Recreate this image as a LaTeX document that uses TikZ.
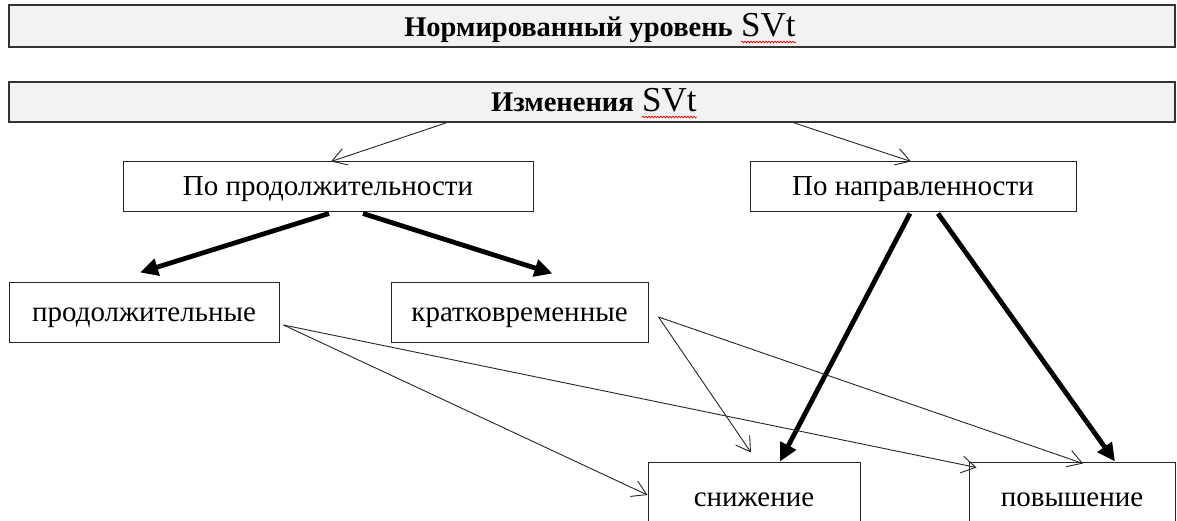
\documentclass[tikz,border=0pt]{standalone}
\usepackage{fontspec}
\setmainfont{Liberation Serif}
\usetikzlibrary{arrows.meta,calc,decorations.pathmorphing}
\begin{document}
\begin{tikzpicture}[x=1pt,y=-1pt,
  bar/.style={draw=black!80, line width=1.8pt, fill=black!5, inner sep=0pt, minimum width=1166pt},
  box/.style={draw=black!85, line width=1pt, fill=white, inner sep=0pt,
    font=\fontsize{29}{34}\selectfont, text height=24pt, text depth=6pt},
  bartext/.style={inner sep=0pt, font=\fontsize{28.5}{34}\selectfont\bfseries},
  svt/.style={inner sep=0pt, font=\fontsize{35}{40}\selectfont},
  squiggle/.style={draw=red, line width=0.7pt, decorate, decoration={snake, amplitude=0.9pt, segment length=3pt}},
  thinarrow/.style={draw=black!85, line width=0.9pt, -{Straight Barb[length=14pt,width=17pt]}},
  thickarrow/.style={draw=black, line width=4.8pt, -{Triangle[length=18pt,width=17pt]}}
]
\clip (0,0) rectangle (1177,521);
\fill[white] (0,0) rectangle (1177,521);

\node[bar, minimum height=42pt] (bar1) at (592,26) {};
\node[bar, minimum height=40pt] (bar2) at (592,102) {};

\node[bartext, anchor=base east] (t1a) at (733,37) {Нормированный уровень};
\node[svt, anchor=base west] (t1b) at ($(t1a.base east)+(8,0)$) {SVt};
\draw[squiggle] ($(t1b.base west)+(0,5)$) -- ($(t1b.base east)+(0,5)$);

\node[bartext, anchor=base east] (t2a) at (634,112) {Изменения};
\node[svt, anchor=base west] (t2b) at ($(t2a.base east)+(8,0)$) {SVt};
\draw[squiggle] ($(t2b.base west)+(0,5)$) -- ($(t2b.base east)+(0,5)$);

\node[box, minimum width=410pt, minimum height=50pt] (pdur) at (328,187) {По продолжительности};
\node[box, minimum width=326pt, minimum height=50pt] (pdir) at (913,187) {По направленности};
\node[box, minimum width=270pt, minimum height=60pt] (long) at (144,312) {продолжительные};
\node[box, minimum width=257pt, minimum height=60pt] (short) at (519.5,312) {кратковременные};
\node[box, minimum width=212pt, minimum height=70pt] (dec) at (754,497) {снижение};
\node[box, minimum width=206pt, minimum height=70pt] (inc) at (1072,497) {повышение};

% thin arrows from the bar
\draw[thinarrow] ($(bar2.south west)+(438,0)$) -- ($(pdur.north)+(3,0)$);
\draw[thinarrow] ($(bar2.south west)+(786,0)$) -- ($(pdir.north)+(-2,0)$);

% thick arrows
\draw[thickarrow] ($(pdur.south)+(1,1)$) -- ($(long.north)+(-4,-9)$);
\draw[thickarrow] ($(pdur.south)+(35,1)$) -- ($(short.north)+(33,-8)$);
\draw[thickarrow] ($(pdir.south)+(-3,1)$) -- ($(dec.north)+(26,0)$);
\draw[thickarrow] ($(pdir.south)+(25,1)$) -- ($(inc.north)+(43,0)$);

% thin crossing arrows
\draw[thinarrow] ($(long.east)+(4,13)$) -- ($(dec.west)+(0,-2)$);
\draw[thinarrow] ($(long.east)+(4,13)$) -- ($(inc.north west)+(8,6)$);
\draw[thinarrow] ($(short.east)+(10,5)$) -- ($(dec.north)+(-3,-9)$);
\draw[thinarrow] ($(short.east)+(10,5)$) -- ($(inc.north)+(11,2)$);
\end{tikzpicture}
\end{document}
